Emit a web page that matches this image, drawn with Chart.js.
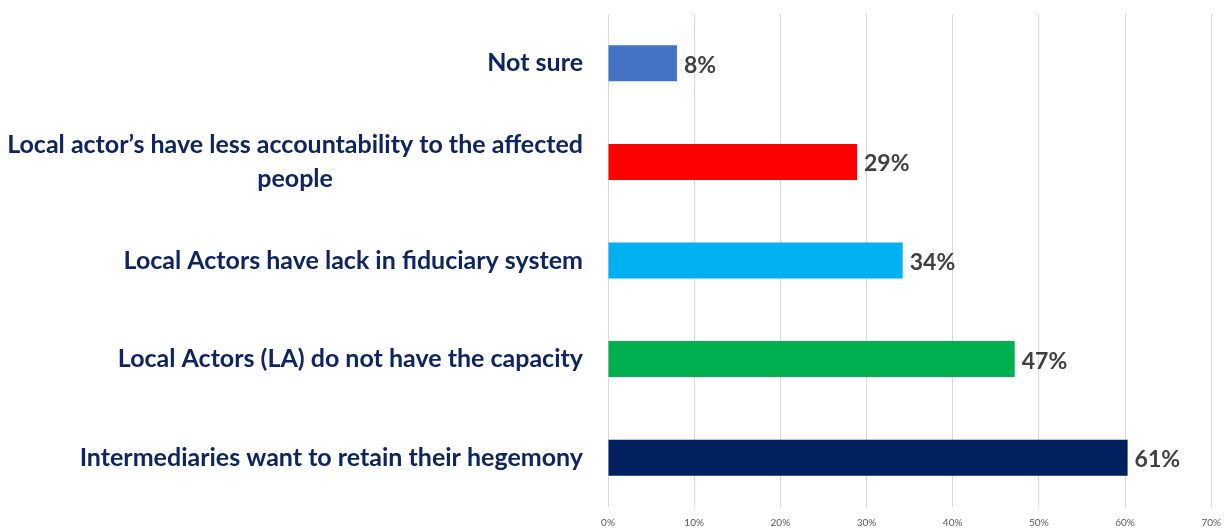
<!DOCTYPE html>
<html>
<head>
<meta charset="utf-8">
<script src="https://cdn.jsdelivr.net/npm/chart.js@4"></script>
<style>
    html, body { margin: 0; padding: 0; background: #fff; }
    #wrap { width: 1231px; height: 530px; }
</style>
</head>
<body>
<div id="wrap"><canvas id="barChart"></canvas></div>
<script>
// chart data
const categories = [
    ['Not sure'],
    ['Local actor\u2019s have less accountability to the affected', 'people'],
    ['Local Actors have lack in fiduciary system'],
    ['Local Actors (LA) do not have the capacity'],
    ['Intermediaries want to retain their hegemony']
];
const values = [8, 28.9, 34.2, 47.2, 60.3];
const valueLabels = ['8%', '29%', '34%', '47%', '61%'];
const barColors = ['#4472C4', '#FF0000', '#00B0F0', '#00B050', '#002060'];
const tickLabels = ['0%', '10%', '20%', '30%', '40%', '50%', '60%', '70%'];

// draws the category text left of the plot and value text after each bar
const labelPlugin = {
    id: 'labelPlugin',
    afterDatasetsDraw(chart) {
        const ctx = chart.ctx;
        const yScale = chart.scales.y;
        const meta = chart.getDatasetMeta(0);
        ctx.save();

        ctx.font = 'bold 25px Lato';
        ctx.fillStyle = '#0E2560';
        ctx.textBaseline = 'middle';
        categories.forEach((lines, i) => {
            const y = yScale.getPixelForValue(i);
            const right = 583;
            const widths = lines.map(l => ctx.measureText(l).width);
            const maxW = Math.max(...widths);
            const center = right - maxW / 2;
            const lh = 34;
            const y0 = y - (lines.length - 1) * lh / 2;
            ctx.textAlign = 'center';
            lines.forEach((l, j) => {
                ctx.fillText(l, center, y0 + j * lh);
            });
        });

        ctx.font = 'bold 23px Lato';
        ctx.fillStyle = '#404040';
        ctx.textAlign = 'left';
        meta.data.forEach((bar, i) => {
            ctx.fillText(valueLabels[i], bar.x + 7, bar.y + 2);
        });
        ctx.restore();
    }
};

const ctx = document.getElementById('barChart');
new Chart(ctx, {
    type: 'bar',
    data: {
        labels: categories,
        datasets: [{
            data: values,
            backgroundColor: barColors,
            borderWidth: 0,
            categoryPercentage: 1,
            barPercentage: 0.365
        }]
    },
    options: {
        indexAxis: 'y',
        responsive: true,
        maintainAspectRatio: false,
        animation: false,
        layout: {
            padding: { left: 608, right: 17, top: 14, bottom: -9 }
        },
        scales: {
            x: {
                min: 0,
                max: 70,
                border: { display: false },
                grid: {
                    color: '#D9D9D9',
                    lineWidth: 1,
                    drawTicks: false,
                    tickLength: 0
                },
                ticks: {
                    stepSize: 10,
                    padding: 10,
                    color: '#595959',
                    font: { family: 'Lato', size: 10 },
                    maxRotation: 0,
                    callback: (v, i) => tickLabels[i]
                }
            },
            y: {
                display: false
            }
        },
        plugins: {
            legend: { display: false },
            tooltip: { enabled: false }
        }
    },
    plugins: [labelPlugin]
});
</script>
</body>
</html>
